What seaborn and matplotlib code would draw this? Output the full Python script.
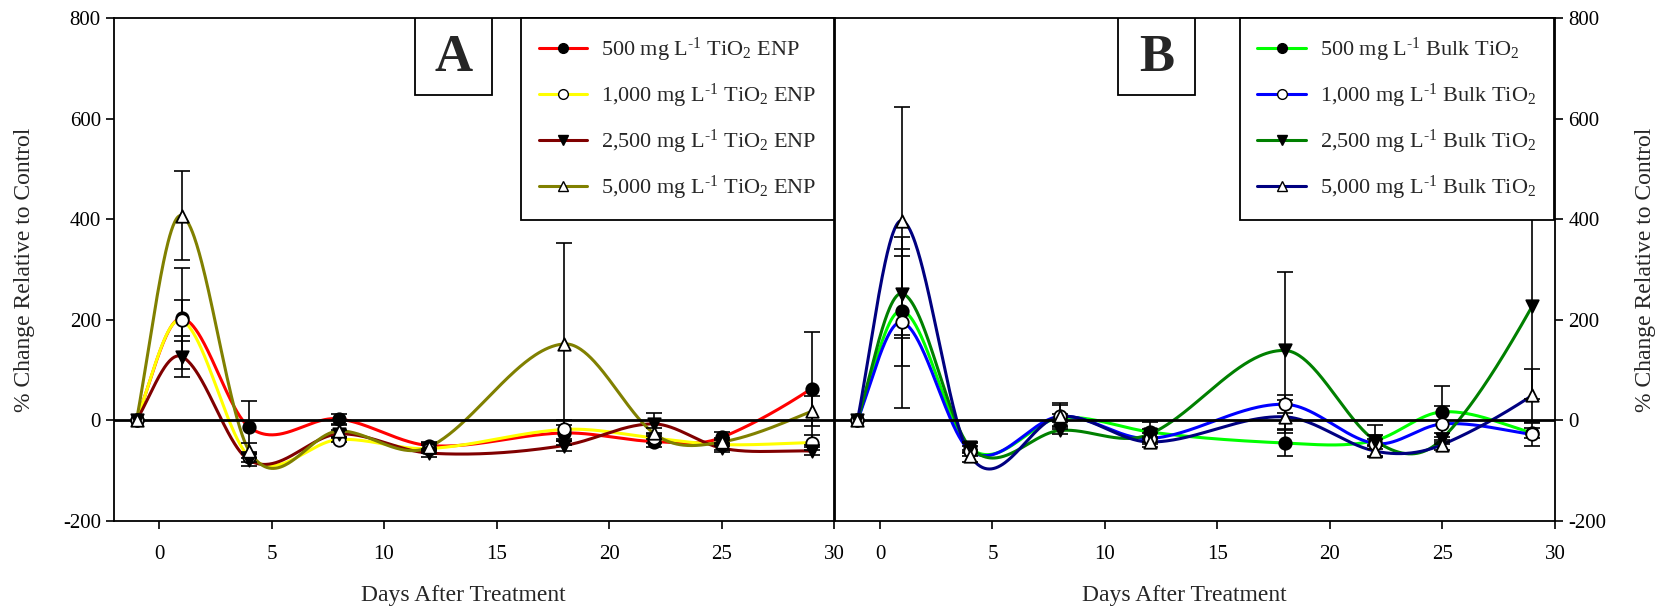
import numpy as np
import matplotlib
matplotlib.use("Agg")
import matplotlib.pyplot as plt
from matplotlib.lines import Line2D
from matplotlib.patches import Rectangle
import seaborn as sns

# ---- data -------------------------------------------------------------
days = [-1, 1, 4, 8, 12, 18, 22, 25, 29]

# Panel A: TiO2 engineered nanoparticles (% change relative to control)
enp_500 = [0, 203, -13, 3, -50, -25, -42, -34, 63]
enp_1000 = [0, 199, -72, -38, -56, -18, -35, -48, -44]
enp_2500 = [0, 127, -79, -27, -65, -50, -7, -55, -61]
enp_5000 = [0, 407, -60, -21, -53, 152, -26, -43, 18]

enp_500_err = [0, 100, 51, 10, 8, 15, 10, 10, 112]
enp_1000_err = [0, 41, 10, 5, 8, 18, 10, 10, 14]
enp_2500_err = [0, 41, 12, 8, 8, 10, 21, 8, 8]
enp_5000_err = [0, 88, 15, 12, 8, 200, 10, 8, 30]

# Panel B: bulk TiO2
bulk_500 = [0, 218, -55, 5, -23, -45, -40, 17, -25]
bulk_1000 = [0, 195, -60, 8, -36, 32, -46, -7, -28]
bulk_2500 = [0, 252, -53, -20, -27, 139, -40, -36, 228]
bulk_5000 = [0, 397, -70, 8, -43, 7, -61, -48, 50]

bulk_500_err = [0, 109, 10, 8, 19, 25, 10, 51, 10]
bulk_1000_err = [0, 170, 10, 26, 10, 18, 10, 35, 22]
bulk_2500_err = [0, 89, 10, 8, 10, 156, 30, 10, 185]
bulk_5000_err = [0, 227, 12, 22, 10, 33, 12, 10, 53]

doses = ["500", "1,000", "2,500", "5,000"]
x_ticks = [0, 5, 10, 15, 20, 25, 30]
y_ticks = [-200, 0, 200, 400, 600, 800]

enp_colors = ["#ff0000", "#ffff00", "#800000", "#808000"]
bulk_colors = ["#00ff00", "#0000ff", "#008000", "#000080"]
markers = ["o", "o", "v", "^"]
marker_faces = ["black", "white", "black", "white"]

# ---- style ------------------------------------------------------------
sns.set_style("ticks")
plt.rcParams["font.family"] = ["Liberation Serif", "DejaVu Serif"]
plt.rcParams["mathtext.fontset"] = "custom"
plt.rcParams["mathtext.rm"] = "Liberation Serif"
plt.rcParams["mathtext.it"] = "Liberation Serif:italic"
plt.rcParams["mathtext.bf"] = "Liberation Serif:bold"
plt.rcParams["axes.unicode_minus"] = False

TANGENT_GAIN = 1.2  # slightly looser than plain Catmull-Rom


def smooth_curve(x, y, per_seg=80):
    """Cardinal Hermite spline through the measured points."""
    x = np.asarray(x, float)
    y = np.asarray(y, float)
    k = len(x)
    m = np.empty(k)
    m[1:-1] = (y[2:] - y[:-2]) / (x[2:] - x[:-2])
    m[0] = (y[1] - y[0]) / (x[1] - x[0])
    m[-1] = (y[-1] - y[-2]) / (x[-1] - x[-2])
    m *= TANGENT_GAIN
    xs_all, ys_all = [], []
    for i in range(k - 1):
        h = x[i + 1] - x[i]
        s = np.linspace(0, 1, per_seg, endpoint=(i == k - 2))
        h00 = 2 * s ** 3 - 3 * s ** 2 + 1
        h10 = s ** 3 - 2 * s ** 2 + s
        h01 = -2 * s ** 3 + 3 * s ** 2
        h11 = s ** 3 - s ** 2
        xs_all.append(x[i] + s * h)
        ys_all.append(h00 * y[i] + h10 * h * m[i]
                      + h01 * y[i + 1] + h11 * h * m[i + 1])
    return np.concatenate(xs_all), np.concatenate(ys_all)


def draw_panel(ax, series, errors, colors, names, letter, box_x):
    # smooth curves
    for vals, col in zip(series, colors):
        xs, ys = smooth_curve(days, vals)
        sns.lineplot(x=xs, y=ys, ax=ax, color=col, linewidth=2.2,
                     estimator=None, sort=False, zorder=2)
    ax.axhline(0, color="black", linewidth=2.0, zorder=2.5)
    # error bars
    for vals, err in zip(series, errors):
        d = np.array(days)
        v = np.array(vals, float)
        e = np.array(err, float)
        keep = e > 0
        ax.errorbar(d[keep], v[keep], yerr=e[keep], fmt="none",
                    ecolor="black", elinewidth=1.2, capsize=6,
                    capthick=1.2, zorder=3)
    # symbols
    for vals, mk, fc in zip(series, markers, marker_faces):
        sns.scatterplot(x=days, y=vals, ax=ax, marker=mk, s=80,
                        color=fc, edgecolor="black", linewidth=1.3,
                        zorder=4, legend=False)

    ax.set_xlim(-2, 30)
    ax.set_ylim(-200, 800)
    ax.set_xticks(x_ticks)
    ax.set_yticks(y_ticks)
    ax.tick_params(direction="out", length=6, width=1.2, labelsize=15,
                   colors="black")
    ax.tick_params(axis="x", pad=11)
    for sp in ax.spines.values():
        sp.set_visible(True)
        sp.set_linewidth(1.3)
        sp.set_color("black")
    ax.set_xlabel("Days After Treatment", fontsize=17)
    ax.xaxis.set_label_coords(0.485, -0.128)

    # panel letter box
    ax.add_patch(Rectangle((box_x, 0.847), 0.107, 0.153,
                           transform=ax.transAxes, facecolor="white",
                           edgecolor="black", linewidth=1.3, zorder=6))
    ax.text(box_x + 0.0535, 0.921, letter, transform=ax.transAxes,
            ha="center", va="center", fontsize=38, fontweight="bold",
            zorder=7)

    handles = [Line2D([], [], color=c, linewidth=2.2, marker=m,
                      markerfacecolor=fc, markeredgecolor="black",
                      markersize=7)
               for c, m, fc in zip(colors, markers, marker_faces)]
    leg = ax.legend(handles, names, loc="upper right",
                    bbox_to_anchor=(1.0, 1.0), borderaxespad=0,
                    frameon=True, fancybox=False, edgecolor="black",
                    framealpha=1, fontsize=16, handlelength=2.2,
                    handletextpad=0.6, labelspacing=0.8, borderpad=0.8)
    leg.get_frame().set_linewidth(1.3)
    leg.set_zorder(8)
    return leg


fig = plt.figure(figsize=(16.67, 6.12), dpi=100)
ax_a = fig.add_axes([0.0684, 0.1487, 0.4319, 0.8219])
ax_b = fig.add_axes([0.5009, 0.1487, 0.4319, 0.8219])

enp_names = [d + r" mg L$^{\text{-}1}$ TiO$_2$ ENP" for d in doses]
bulk_names = [d + r" mg L$^{\text{-}1}$ Bulk TiO$_2$" for d in doses]

draw_panel(ax_a, [enp_500, enp_1000, enp_2500, enp_5000],
           [enp_500_err, enp_1000_err, enp_2500_err, enp_5000_err],
           enp_colors, enp_names, "A", 0.418)
leg_b = draw_panel(ax_b, [bulk_500, bulk_1000, bulk_2500, bulk_5000],
                   [bulk_500_err, bulk_1000_err, bulk_2500_err, bulk_5000_err],
                   bulk_colors, bulk_names, "B", 0.393)
leg_b.set_bbox_to_anchor((0.998, 1.0), transform=ax_b.transAxes)

ax_a.set_ylabel("% Change Relative to Control", fontsize=17)
ax_a.yaxis.set_label_coords(-0.11, 0.5)

ax_b.yaxis.tick_right()
ax_b.yaxis.set_label_position("right")
ax_b.set_ylabel("% Change Relative to Control", fontsize=17)
ax_b.yaxis.set_label_coords(1.111, 0.5)

fig.savefig("out.png", dpi=100, facecolor="white")
